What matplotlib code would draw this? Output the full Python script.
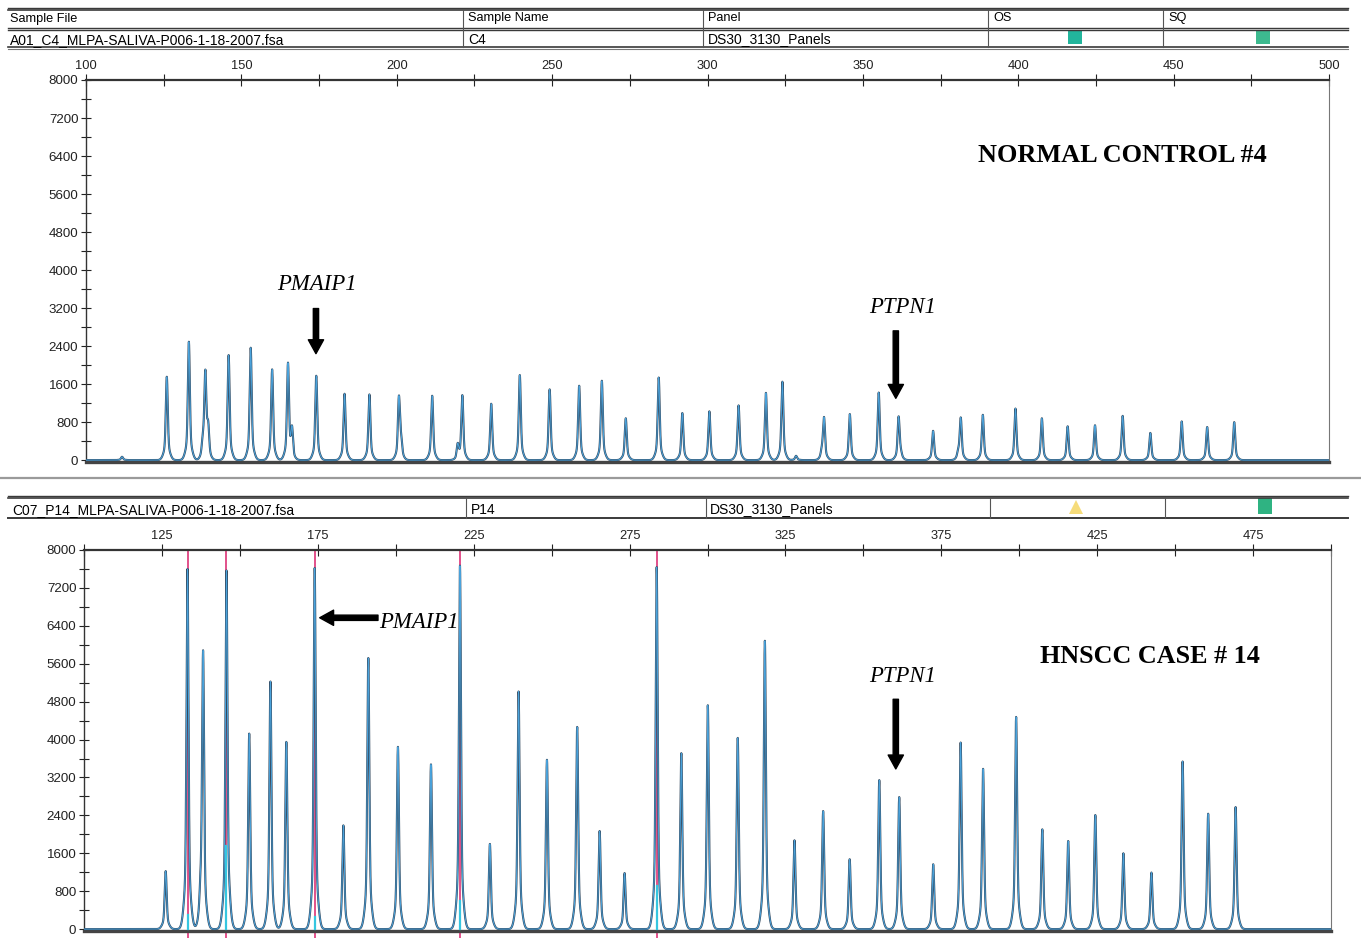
import numpy as np
import matplotlib
matplotlib.use('Agg')
import matplotlib.pyplot as plt
from matplotlib.lines import Line2D
from matplotlib.patches import Rectangle, Polygon

# ---------------- data ----------------
top_sizes = [126.0, 133.1, 138.4, 145.9, 153.0, 159.9, 165.0, 174.1, 183.2, 191.2,
             200.7, 211.4, 221.1, 230.4, 239.6, 249.2, 258.7, 266.0, 273.7,
             284.3, 291.9, 300.6, 310.0, 318.8, 324.1,
             337.5, 345.8, 355.1, 361.5, 372.6, 381.5, 388.6, 399.1, 407.6, 415.9,
             424.7, 433.6, 442.5, 452.6, 460.8, 469.5]
top_heights = [1754, 2491, 1789, 2210, 2365, 1909, 2014, 1775, 1396, 1382,
               1298, 1354, 1354, 1186, 1789, 1488, 1565, 1670, 880,
               1738, 990, 1026, 1151, 1415, 1650,
               880, 968, 1422, 902, 616, 880, 953, 1085, 880, 711,
               733, 931, 572, 814, 696, 799]
top_minor_sizes = [111.6, 137.6, 139.3, 166.3, 201.4, 219.6, 328.5, 336.8, 362.2, 380.7]
top_minor_heights = [70, 300, 620, 600, 330, 300, 90, 150, 100, 130]

bot_sizes = [126.2, 133.2, 138.2, 145.7, 153.0, 159.8, 164.9, 174.0, 183.2, 191.2,
             200.7, 211.3, 220.6, 230.2, 239.4, 248.5, 258.2, 265.4, 273.4, 283.7,
             291.6, 300.1, 309.7, 318.4, 327.9, 337.1, 345.6, 355.1, 361.5, 372.4,
             381.2, 388.4, 399.0, 407.4, 415.7, 424.4, 433.4, 442.4, 452.4, 460.6,
             469.4]
bot_heights = [1224, 7600, 5818, 7550, 4126, 5224, 3951, 7620, 2189, 5720,
               3846, 3476, 7670, 1797, 5014, 3573, 4266, 2070, 1182, 7640,
               3712, 4723, 4035, 6084, 1874, 2491, 1474, 3144, 2786, 1368,
               3937, 3382, 4477, 2105, 1860, 2407, 1600, 1193, 3537, 2435,
               2575]
bot_minor_sizes = [137.4, 146.6]
bot_minor_heights = [450, 150]
bot_saturated = [133.2, 145.7, 174.0, 220.6, 283.7]
bot_cyan_heights = [300, 1760, 250, 600, 900]

top_major_ticks = [100, 150, 200, 250, 300, 350, 400, 450, 500]
top_minor_ticks = [125, 175, 225, 275, 325, 375, 425, 475]
bot_major_ticks = [125, 175, 225, 275, 325, 375, 425, 475]
bot_minor_ticks = [100, 150, 200, 250, 300, 350, 400, 450, 500]
y_major_ticks = list(range(0, 8001, 800))
y_minor_ticks = list(range(400, 8000, 800))

# ---------------- figure ----------------
W, H = 1361, 938
fig = plt.figure(figsize=(W / 100, H / 100), dpi=100)
fig.patch.set_facecolor('white')

def X(px):
    return px / W

def Y(py):
    return 1 - py / H

SANS = 'Liberation Sans'
SERIF = 'Liberation Serif'

def hline(py, x0=8, x1=1348, lw=1.4, color='#3a3a3a'):
    fig.add_artist(Line2D([X(x0), X(x1)], [Y(py), Y(py)], lw=lw, color=color,
                          transform=fig.transFigure))

def vline(px, y0, y1, lw=0.8, color='#555555'):
    fig.add_artist(Line2D([X(px), X(px)], [Y(y0), Y(y1)], lw=lw, color=color,
                          transform=fig.transFigure))

# header (top sample)
hline(8, lw=1.0); hline(10, lw=1.2)
hline(28, lw=1.0); hline(30, lw=1.0)
hline(47, lw=1.2); hline(49, lw=0.8, color='#777777')
for px in (463, 703, 988, 1163):
    vline(px, 10, 47)
fig.text(X(10), Y(19), 'Sample File', fontsize=9.2, family=SANS, va='center')
fig.text(X(468), Y(18), 'Sample Name', fontsize=9.2, family=SANS, va='center')
fig.text(X(708), Y(18), 'Panel', fontsize=9.2, family=SANS, va='center')
fig.text(X(993), Y(18), 'OS', fontsize=9.2, family=SANS, va='center')
fig.text(X(1168), Y(18), 'SQ', fontsize=9.2, family=SANS, va='center')
fig.text(X(10), Y(40), 'A01_C4_MLPA-SALIVA-P006-1-18-2007.fsa', fontsize=10, family=SANS, va='center')
fig.text(X(468), Y(40), 'C4', fontsize=10, family=SANS, va='center')
fig.text(X(708), Y(39.5), 'DS30_3130_Panels', fontsize=10, family=SANS, va='center')
fig.add_artist(Rectangle((X(1068), Y(44)), X(14), 14 / H, transform=fig.transFigure,
                         facecolor='#22b59c', edgecolor='none'))
fig.add_artist(Rectangle((X(1256), Y(44)), X(14), 14 / H, transform=fig.transFigure,
                         facecolor='#3dba8f', edgecolor='none'))

# separator between panels + header (bottom sample)
hline(478, x0=0, x1=1361, lw=1.6, color='#9a9a9a')
hline(496, lw=1.0); hline(498, lw=1.2)
hline(518, lw=1.4)
for px in (466, 706, 990, 1165):
    vline(px, 498, 518)
fig.text(X(12), Y(510), 'C07_P14_MLPA-SALIVA-P006-1-18-2007.fsa', fontsize=10, family=SANS, va='center')
fig.text(X(471), Y(510), 'P14', fontsize=10, family=SANS, va='center')
fig.text(X(710), Y(509), 'DS30_3130_Panels', fontsize=10, family=SANS, va='center')
fig.add_artist(Polygon([[X(1069), Y(514)], [X(1083), Y(514)], [X(1076), Y(500)]],
                       closed=True, transform=fig.transFigure,
                       facecolor='#f6dc7a', edgecolor='none'))
fig.add_artist(Rectangle((X(1258), Y(514)), X(14), 16 / H, transform=fig.transFigure,
                         facecolor='#2fb382', edgecolor='none'))

# ---------------- traces ----------------
xg = np.linspace(100, 500, 24001)

def build(sizes, heights):
    y = np.zeros_like(xg)
    for c, h in zip(sizes, heights):
        y += h * (0.82 * np.exp(-0.5 * ((xg - c) / 0.30) ** 2)
                  + 0.18 * np.exp(-0.5 * ((xg - c) / 0.9) ** 2))
    return y


def style_axes(ax, major, minor):
    ax.set_xlim(100, 500)
    ax.set_ylim(-40, 8000)
    ax.xaxis.tick_top()
    ax.set_xticks(major)
    ax.set_xticks(minor, minor=True)
    ax.set_xticklabels([str(t) for t in major])
    ax.tick_params(axis='x', which='both', direction='inout', length=9, width=0.8,
                   top=True, bottom=False, labeltop=True, labelbottom=False,
                   pad=1, labelsize=9.3, colors='#222222')
    ax.set_yticks(y_major_ticks)
    ax.set_yticks(y_minor_ticks, minor=True)
    ax.tick_params(axis='y', which='both', direction='inout', length=7, width=0.8,
                   labelsize=9.6, pad=2, colors='#222222')
    for lab in ax.get_xticklabels() + ax.get_yticklabels():
        lab.set_family(SANS)
    ax.spines['top'].set_linewidth(1.6)
    ax.spines['top'].set_color('#333333')
    ax.spines['left'].set_linewidth(1.0)
    ax.spines['left'].set_color('#333333')
    ax.spines['right'].set_linewidth(0.8)
    ax.spines['right'].set_color('#777777')
    ax.spines['bottom'].set_linewidth(2.4)
    ax.spines['bottom'].set_color('#444444')


def draw_trace(ax, y):
    ax.plot(xg, y, color='#34495e', lw=1.5, zorder=3)
    ax.plot(xg, y, color='#4aa3dc', lw=0.7, zorder=4)


ARROW = dict(facecolor='black', edgecolor='black', width=3.8,
             headwidth=11, headlength=10, shrink=0)

# top panel
ax1 = fig.add_axes([X(86), Y(462), X(1329 - 86), (462 - 80) / H])
style_axes(ax1, top_major_ticks, top_minor_ticks)
y_top = build(top_sizes + top_minor_sizes, top_heights + top_minor_heights)
draw_trace(ax1, y_top)

ax1.text(387.0, 6420, 'NORMAL CONTROL #4', family=SERIF, fontsize=18.9,
         fontweight='bold', va='center', ha='left')
ax1.text(174.3, 3700, 'PMAIP1', family=SERIF, fontsize=16.4, style='italic',
         va='center', ha='center')
ax1.annotate('', xy=(174.0, 2240), xytext=(174.0, 3190), arrowprops=ARROW)
ax1.text(362.8, 3220, 'PTPN1', family=SERIF, fontsize=16.4, style='italic',
         va='center', ha='center')
ax1.annotate('', xy=(360.6, 1300), xytext=(360.6, 2720), arrowprops=ARROW)

# bottom panel
ax2 = fig.add_axes([X(84), Y(931), X(1331 - 84), (931 - 550) / H])
style_axes(ax2, bot_major_ticks, bot_minor_ticks)
y_bot = build(bot_sizes + bot_minor_sizes, bot_heights + bot_minor_heights)
for s in bot_saturated:
    ax2.plot([s, s], [-200, 8000], color='#e2508a', lw=1.4, zorder=2, clip_on=False)
draw_trace(ax2, y_bot)
for s, ch in zip(bot_saturated, bot_cyan_heights):
    ax2.plot([s, s], [0, ch], color='#35c6e0', lw=1.6, zorder=5)

ax2.text(194.6, 6480, 'PMAIP1', family=SERIF, fontsize=16.4, style='italic',
         va='center', ha='left')
ax2.annotate('', xy=(175.6, 6570), xytext=(194.3, 6570), arrowprops=ARROW)
ax2.text(406.6, 5750, 'HNSCC CASE # 14', family=SERIF, fontsize=18.8,
         fontweight='bold', va='center', ha='left')
ax2.text(362.7, 5330, 'PTPN1', family=SERIF, fontsize=16.4, style='italic',
         va='center', ha='center')
ax2.annotate('', xy=(360.4, 3380), xytext=(360.4, 4850), arrowprops=ARROW)

fig.savefig('out.png', dpi=100)
